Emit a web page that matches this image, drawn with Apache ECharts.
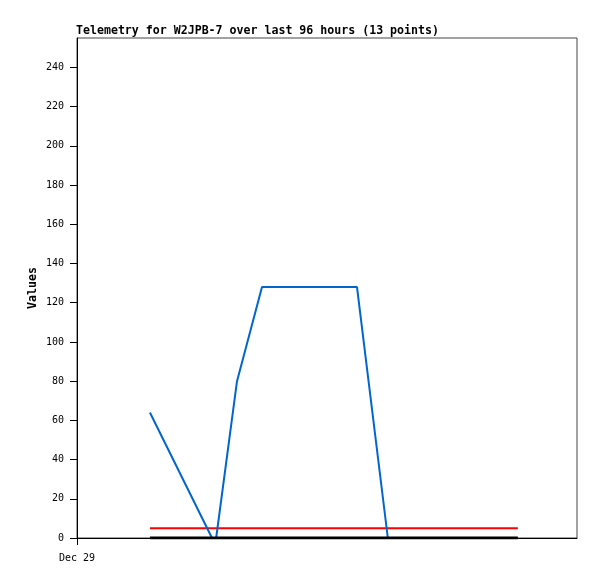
<!DOCTYPE html>
<html>
<head>
<meta charset="utf-8">
<script src="https://cdn.jsdelivr.net/npm/echarts@6/dist/echarts.min.js"></script>
<style>html,body{margin:0;padding:0;background:#fff;}#c{width:597px;height:579px;}</style>
</head>
<body>
<div id="c"></div>
<script>
// hours since Dec 29 00:00
const titleText = "Telemetry for W2JPB-7 over last 96 hours (13 points)";
const yAxisName = "Values";
const xTickLabel = "Dec 29";
const hours = [17.5, 32.4, 33.4, 38.4, 44.4, 52.1, 59.6, 67.2, 74.6, 82.3, 90.0, 97.9, 105.8];
const values = [64, 0, 0, 80, 128, 128, 128, 128, 0, 0, 0, 0, 0];
const yTicks = [0, 20, 40, 60, 80, 100, 120, 140, 160, 180, 200, 220, 240];
const thresholdHigh = 5;
const thresholdLow = 0;
const xMin = 0, xMax = 120;
const yMin = 0, yMax = 255;

const mono = "'DejaVu Sans Mono', 'Liberation Mono', monospace";
const chart = echarts.init(document.getElementById('c'), null, {renderer: 'canvas'});
const first = hours[0], last = hours[hours.length - 1];
chart.setOption({
  animation: false,
  backgroundColor: '#fff',
  title: {
    text: titleText, left: 76, top: 25, padding: 0,
    textStyle: {fontFamily: mono, fontSize: 11.6, fontWeight: 'bold', color: '#000'}
  },
  grid: {left: 77, top: 38, width: 500, height: 500, show: true, borderColor: '#444', borderWidth: 1, backgroundColor: '#fff'},
  xAxis: {
    type: 'value', min: xMin, max: xMax,
    splitLine: {show: false},
    axisLine: {show: true, lineStyle: {color: '#000', width: 1}},
    axisTick: {show: true, customValues: [0], length: 7, lineStyle: {color: '#000'}},
    axisLabel: {customValues: [0], formatter: v => v === 0 ? xTickLabel : '', fontFamily: mono, fontSize: 10, color: '#000', margin: 15}
  },
  yAxis: {
    type: 'value', min: yMin, max: yMax,
    name: yAxisName, nameLocation: 'middle', nameGap: 38, nameRotate: 90, nameMoveOverlap: false,
    nameTextStyle: {fontFamily: mono, fontSize: 11.6, fontWeight: 'bold', color: '#000'},
    splitLine: {show: false},
    axisLine: {show: true, lineStyle: {color: '#000', width: 1}},
    axisTick: {show: true, customValues: yTicks, length: 7, lineStyle: {color: '#000'}},
    axisLabel: {customValues: yTicks, fontFamily: mono, fontSize: 10, color: '#000', margin: 13}
  },
  series: [
    {type: 'line', data: [[first, thresholdHigh], [last, thresholdHigh]], showSymbol: false, lineStyle: {color: '#ff0000', width: 2}, z: 2},
    {type: 'line', data: hours.map((h, i) => [h, values[i]]), showSymbol: false, lineStyle: {color: '#0066cc', width: 2}, z: 3},
    {type: 'line', data: [[first, thresholdLow], [last, thresholdLow]], showSymbol: false, lineStyle: {color: '#000', width: 3}, z: 4}
  ]
});
</script>
</body>
</html>
